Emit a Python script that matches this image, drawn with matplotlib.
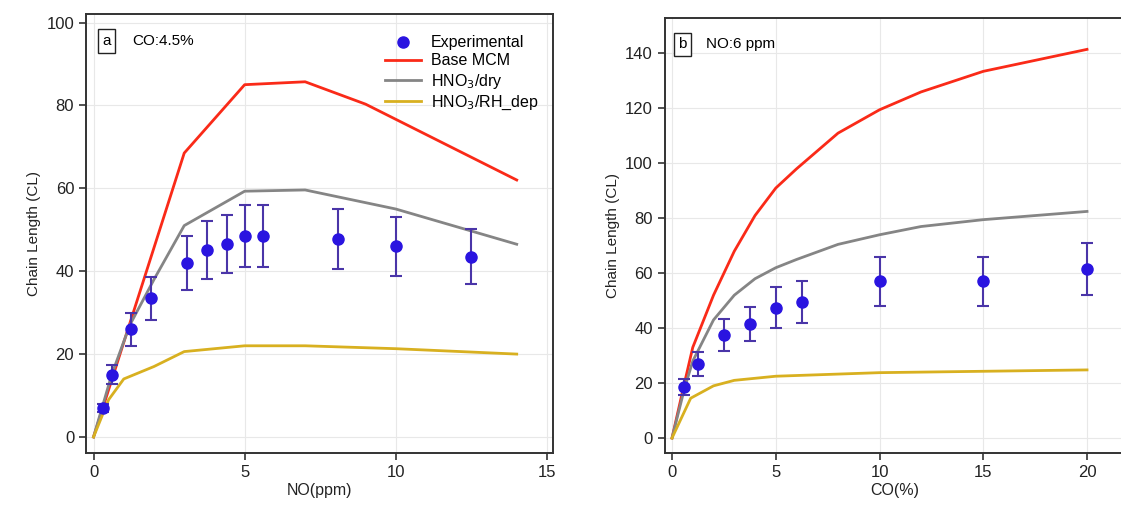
import matplotlib.pyplot as plt
from matplotlib.lines import Line2D

# panel a : CO 4.5 %, varying NO
no_exp = [0.3, 0.6, 1.25, 1.9, 3.1, 3.75, 4.4, 5.0, 5.6, 8.1, 10.0, 12.5]
cl_exp_a = [7.0, 15.0, 26.0, 33.5, 42.0, 45.0, 46.5, 48.5, 48.5, 47.8, 46.0, 43.5]
err_a = [1.0, 2.3, 4.0, 5.2, 6.5, 7.0, 7.0, 7.5, 7.5, 7.3, 7.1, 6.7]

no_mod_red = [0, 3.0, 5.0, 7.0, 9.0, 14.0]
cl_red_a = [0, 68.5, 85.0, 85.7, 80.3, 62.0]
no_mod_gray = [0, 0.6, 1.2, 2.0, 3.0, 5.0, 7.0, 10.0, 14.0]
cl_gray_a = [0, 15.0, 27.0, 38.0, 51.0, 59.3, 59.6, 55.0, 46.5]
no_mod_yel = [0, 0.5, 1.0, 2.0, 3.0, 5.0, 7.0, 10.0, 14.0]
cl_yel_a = [0, 9.0, 14.0, 17.0, 20.6, 22.0, 22.0, 21.3, 20.0]

# panel b : NO 6 ppm, varying CO
co_exp = [0.6, 1.25, 2.5, 3.75, 5.0, 6.25, 10.0, 15.0, 20.0]
cl_exp_b = [18.5, 27.0, 37.5, 41.5, 47.5, 49.5, 57.0, 57.0, 61.5]
err_b = [3.0, 4.3, 5.8, 6.2, 7.4, 7.7, 8.8, 8.8, 9.5]

co_mod = [0, 0.6, 1.0, 2.0, 3.0, 4.0, 5.0, 6.0, 8.0, 10.0, 12.0, 15.0, 20.0]
cl_red_b = [0, 20.0, 33.0, 52.0, 68.0, 81.0, 91.0, 98.0, 111.0, 119.5, 126.0, 133.5, 141.5]
cl_gray_b = [0, 18.0, 28.0, 43.0, 52.0, 58.0, 62.0, 65.0, 70.5, 74.0, 77.0, 79.5, 82.5]
co_mod_yel = [0, 0.9, 2.0, 3.0, 5.0, 10.0, 15.0, 20.0]
cl_yel_b = [0, 14.5, 19.0, 21.0, 22.5, 23.8, 24.3, 24.8]

c_red = '#fa2a18'
c_gray = '#858585'
c_yel = '#d8b020'
c_blue = '#2a14e0'
c_err = '#4a35a8'
c_axis = '#333333'

plt.rcParams['font.family'] = ['Liberation Sans', 'DejaVu Sans']

fig = plt.figure(figsize=(11.21, 5.08), dpi=100)
ax1 = fig.add_axes([0.0767, 0.108, 0.4166, 0.864])
ax2 = fig.add_axes([0.593, 0.108, 0.41, 0.857])


def style(ax):
    for s in ax.spines.values():
        s.set_color(c_axis)
        s.set_linewidth(1.4)
    ax.tick_params(direction='out', length=5, width=1.2, color=c_axis,
                   labelsize=12, labelcolor='#222222')
    ax.grid(True, color='#e8e8e8', linewidth=0.8)
    ax.set_axisbelow(True)
    ax.set_ylabel('Chain Length (CL)', fontsize=11, color='#222222')


# panel a
l_red, = ax1.plot(no_mod_red, cl_red_a, color=c_red, lw=2, zorder=2)
l_gray, = ax1.plot(no_mod_gray, cl_gray_a, color=c_gray, lw=2, zorder=2)
l_yel, = ax1.plot(no_mod_yel, cl_yel_a, color=c_yel, lw=2, zorder=2)
ax1.errorbar(no_exp, cl_exp_a, yerr=err_a, fmt='o', color=c_blue, ms=8,
             ecolor=c_err, elinewidth=1.5, capsize=4, capthick=1.5, zorder=3)
ax1.set_xlim(-0.25, 15.2)
ax1.set_ylim(-3.9, 102)
ax1.set_xticks([0, 5, 10, 15])
ax1.set_yticks([0, 20, 40, 60, 80, 100])
ax1.set_xlabel('NO(ppm)', fontsize=11.5, labelpad=2, color='#222222')
style(ax1)
ax1.text(0.035, 0.955, 'a', transform=ax1.transAxes, fontsize=11, va='top',
         bbox=dict(boxstyle='square,pad=0.3', fc='white', ec='#222222', lw=1))
ax1.text(0.1, 0.955, 'CO:4.5%', transform=ax1.transAxes, fontsize=11, va='top')
dot = Line2D([], [], ls='none', marker='o', color=c_blue, ms=8)
ax1.legend([dot, l_red, l_gray, l_yel],
           ['Experimental', 'Base MCM', 'HNO$_3$/dry', 'HNO$_3$/RH_dep'],
           loc='upper right', bbox_to_anchor=(1.0, 0.985), frameon=False,
           fontsize=11.5, handlelength=2.3, handletextpad=0.6, labelspacing=0.2)

# panel b
ax2.plot(co_mod, cl_red_b, color=c_red, lw=2, zorder=2)
ax2.plot(co_mod, cl_gray_b, color=c_gray, lw=2, zorder=2)
ax2.plot(co_mod_yel, cl_yel_b, color=c_yel, lw=2, zorder=2)
ax2.errorbar(co_exp, cl_exp_b, yerr=err_b, fmt='o', color=c_blue, ms=8,
             ecolor=c_err, elinewidth=1.5, capsize=4, capthick=1.5, zorder=3)
ax2.set_xlim(-0.35, 21.8)
ax2.set_ylim(-5.5, 153)
ax2.set_xticks([0, 5, 10, 15, 20])
ax2.set_yticks([0, 20, 40, 60, 80, 100, 120, 140])
ax2.set_xlabel('CO(%)', fontsize=11.5, labelpad=2, color='#222222')
style(ax2)
ax2.text(0.03, 0.955, 'b', transform=ax2.transAxes, fontsize=11, va='top',
         bbox=dict(boxstyle='square,pad=0.3', fc='white', ec='#222222', lw=1))
ax2.text(0.09, 0.955, 'NO:6 ppm', transform=ax2.transAxes, fontsize=11, va='top')

fig.savefig('out.png', dpi=100)
